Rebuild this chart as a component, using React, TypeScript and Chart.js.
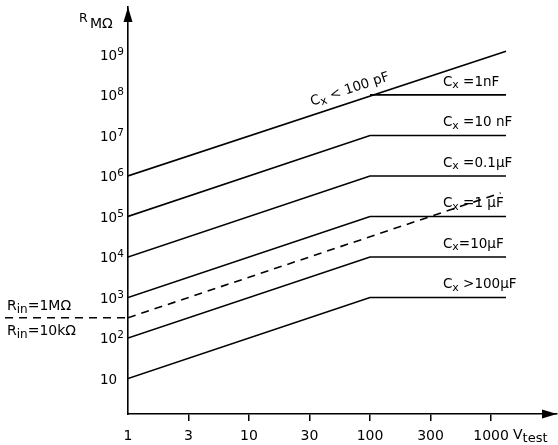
import React, { useEffect, useRef } from 'react';
import { Chart, registerables } from 'chart.js';
Chart.register(...registerables);

const FONT = '"DejaVu Sans", sans-serif';

// x values (V_test) and R (MΩ) values
const vUnder100pF = [1, 1330];
const rUnder100pF = [1e6, 1.2e9];
const v1nF = [100, 1330];
const r1nF = [1e8, 1e8];
const vCap = [1, 100, 1330];
const r10nF = [1e5, 1e7, 1e7];
const r01uF = [1e4, 1e6, 1e6];
const r1uF = [1e3, 1e5, 1e5];
const r10uF = [1e2, 1e4, 1e4];
const r100uF = [10, 1e3, 1e3];
const vRin = [1, 1200];
const rRin = [316, 3.8e5];

const capLevels = [1e8, 1e7, 1e6, 1e5, 1e4, 1e3];
const capRel = [' =', ' =', ' =', ' =', '=', ' >'];
const capVal = ['1nF', '10 nF', '0.1µF', '1 µF', '10µF', '100µF'];
const capLabelV = 400;
const slopedLabelV = 35;

const xTickValues = [1, 3.1623, 10, 31.623, 100, 316.23, 1000];
const xTickLabels = ['1', '3', '10', '30', '100', '300', '1000'];
const yTickExps = [1, 2, 3, 4, 5, 6, 7, 8, 9];

const xMin = 1;
const xMax = 3508;
const yMin = 1.33;
const yMax = 1.48e10;

type Part = { t: string; size: number; dy?: number };
function drawRich(ctx: CanvasRenderingContext2D, x: number, y: number, parts: Part[]) {
  let cx = x;
  for (const p of parts) {
    ctx.font = `${p.size}px ${FONT}`;
    ctx.fillText(p.t, cx, y + (p.dy || 0));
    cx += ctx.measureText(p.t).width;
  }
  return cx;
}

const pts = (xs: number[], ys: number[]) => xs.map((v, i) => ({ x: v, y: ys[i] }));

const annot = {
  id: 'annot',
  afterDraw(chart: any) {
    const { ctx, chartArea, scales } = chart;
    const x = scales.x;
    const y = scales.y;
    ctx.save();
    ctx.fillStyle = '#000';
    ctx.strokeStyle = '#000';
    ctx.textBaseline = 'alphabetic';
    ctx.textAlign = 'left';

    // arrows
    const L = chartArea.left;
    const B = chartArea.bottom;
    ctx.beginPath();
    ctx.moveTo(L, chartArea.top);
    ctx.lineTo(L - 4.5, chartArea.top + 15);
    ctx.lineTo(L + 4.5, chartArea.top + 15);
    ctx.closePath();
    ctx.fill();
    ctx.beginPath();
    ctx.moveTo(chartArea.right, B);
    ctx.lineTo(chartArea.right - 15, B - 4.5);
    ctx.lineTo(chartArea.right - 15, B + 4.5);
    ctx.closePath();
    ctx.fill();

    // y tick labels
    for (const e of yTickExps) {
      const py = y.getPixelForValue(Math.pow(10, e));
      const parts: Part[] = [{ t: '10', size: 13.5 }];
      if (e !== 1) parts.push({ t: String(e), size: 10.5, dy: -5 });
      drawRich(ctx, 100, py + 5.5, parts);
    }

    // axis titles
    drawRich(ctx, 79, 22, [{ t: 'R', size: 12.5 }]);
    drawRich(ctx, 90, 28, [{ t: 'MΩ', size: 14 }]);
    drawRich(ctx, 513, 439, [{ t: 'V', size: 14 }, { t: 'test', size: 13, dy: 3 }]);

    // capacitor labels
    const lx = x.getPixelForValue(capLabelV);
    capLevels.forEach((lv, i) => {
      const py = y.getPixelForValue(lv);
      drawRich(ctx, lx, py - 9, [
        { t: 'C', size: 13.5 },
        { t: 'x', size: 11, dy: 2.5 },
        { t: capRel[i], size: 13.5 },
        { t: capVal[i], size: 13.5 },
      ]);
    });

    // sloped label
    const p1x = x.getPixelForValue(vUnder100pF[0]);
    const p1y = y.getPixelForValue(rUnder100pF[0]);
    const p2x = x.getPixelForValue(vUnder100pF[1]);
    const p2y = y.getPixelForValue(rUnder100pF[1]);
    const ang = Math.atan2(p2y - p1y, p2x - p1x);
    const ax = x.getPixelForValue(slopedLabelV);
    const ay = p1y + (ax - p1x) * Math.tan(ang);
    ctx.save();
    ctx.translate(ax, ay);
    ctx.rotate(ang);
    drawRich(ctx, 0, -9, [
      { t: 'C', size: 13.5 },
      { t: 'x', size: 11, dy: 2.5 },
      { t: ' < 100 pF', size: 13.5 },
    ]);
    ctx.restore();

    // R_in dashed boundary left of axis
    const ry = y.getPixelForValue(rRin[0]);
    ctx.lineWidth = 1.5;
    ctx.setLineDash([8, 6]);
    ctx.beginPath();
    ctx.moveTo(5, ry);
    ctx.lineTo(L, ry);
    ctx.stroke();
    ctx.setLineDash([]);
    drawRich(ctx, 7, ry - 8, [
      { t: 'R', size: 14 },
      { t: 'in', size: 12, dy: 3 },
      { t: '=1MΩ', size: 14 },
    ]);
    drawRich(ctx, 7, ry + 17, [
      { t: 'R', size: 14 },
      { t: 'in', size: 12, dy: 3 },
      { t: '=10kΩ', size: 14 },
    ]);
    ctx.restore();
  },
};

export default function App() {
  const ref = useRef<HTMLCanvasElement>(null);
  useEffect(() => {
    if (!ref.current) return;
    const line = { borderColor: '#000', borderWidth: 1.6, pointRadius: 0, fill: false, tension: 0 };
    const chart = new Chart(ref.current, {
      type: 'line',
      data: {
        datasets: [
          { ...line, label: 'Cx < 100 pF', data: pts(vUnder100pF, rUnder100pF) },
          { ...line, label: 'Cx = 1nF', data: pts(v1nF, r1nF) },
          { ...line, label: 'Cx = 10 nF', data: pts(vCap, r10nF) },
          { ...line, label: 'Cx = 0.1µF', data: pts(vCap, r01uF) },
          { ...line, label: 'Cx = 1 µF', data: pts(vCap, r1uF) },
          { ...line, label: 'Cx = 10µF', data: pts(vCap, r10uF) },
          { ...line, label: 'Cx > 100µF', data: pts(vCap, r100uF) },
          { ...line, label: 'Rin', data: pts(vRin, rRin), borderDash: [8, 6] },
        ],
      },
      options: {
        responsive: false,
        animation: false,
        layout: { padding: { top: 7, right: 1, left: 0, bottom: 0 } },
        plugins: { legend: { display: false }, tooltip: { enabled: false } },
        scales: {
          x: {
            type: 'logarithmic',
            min: xMin,
            max: xMax,
            afterBuildTicks: (s: any) => {
              s.ticks = xTickValues.map((v) => ({ value: v }));
            },
            afterFit: (s: any) => {
              s.height = 31;
            },
            grid: {
              drawOnChartArea: false,
              drawTicks: true,
              tickLength: 7,
              lineWidth: 1.5,
              color: (c: any) => (c.index === 0 ? 'rgba(0,0,0,0)' : '#000'),
            },
            border: { display: true, color: '#000', width: 1.6 },
            ticks: {
              autoSkip: false,
              maxRotation: 0,
              padding: 7,
              color: '#000',
              font: { family: FONT, size: 14 },
              callback: (_v: any, i: number) => xTickLabels[i],
            },
          },
          y: {
            type: 'logarithmic',
            min: yMin,
            max: yMax,
            afterFit: (s: any) => {
              s.width = 128;
            },
            grid: { display: false },
            border: { display: true, color: '#000', width: 1.6 },
            ticks: { display: false },
          },
        },
      },
      plugins: [annot],
    } as any);
    return () => chart.destroy();
  }, []);
  return (
    <canvas
      ref={ref}
      width={558}
      height={445}
      style={{ position: 'absolute', left: 0, top: 0, width: 558, height: 445 }}
    />
  );
}
